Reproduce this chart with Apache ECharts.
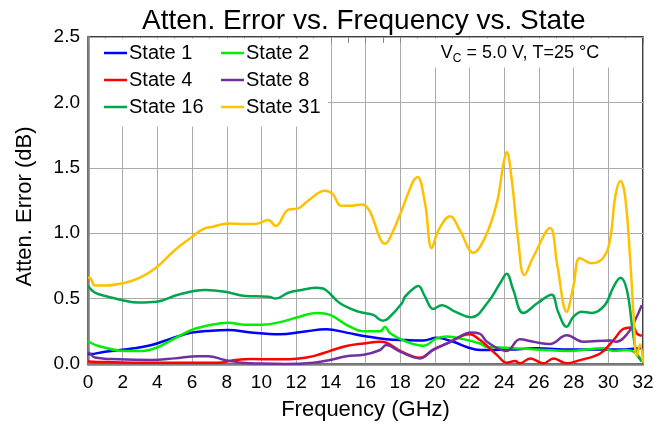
<!DOCTYPE html>
<html>
<head>
<meta charset="utf-8">
<script src="https://cdn.jsdelivr.net/npm/echarts@6/dist/echarts.min.js"></script>
<style>html,body{margin:0;padding:0;background:#fff}#c{width:666px;height:427px}</style>
</head>
<body>
<div id="c"></div>
<script>
var xTicks = [0,2,4,6,8,10,12,14,16,18,20,22,24,26,28,30,32];
var yTicks = ['0.0','0.5','1.0','1.5','2.0','2.5'];

var state1 = [[0,0.08],[0.1,0.076],[0.98,0.094],[2.13,0.11],[3.67,0.145],[4.83,0.196],[5.98,0.24],[7.1,0.255],[8.1,0.26],[9.4,0.24],[11.07,0.227],[12.4,0.247],[13.76,0.265],[14.9,0.24],[16.1,0.21],[17.2,0.19],[18.37,0.183],[19.34,0.18],[20.1,0.20],[21.06,0.17],[21.83,0.13],[22.6,0.107],[23.18,0.107],[24.34,0.11],[25.87,0.12],[27.8,0.11],[29.7,0.11],[30.7,0.11],[31.83,0.12],[32,0.12]];
var state2 = [[0,0.18],[0.1,0.166],[0.6,0.138],[2.13,0.10],[3.1,0.10],[4.05,0.13],[5.0,0.196],[5.98,0.26],[7.1,0.30],[8.1,0.316],[9.05,0.30],[10.0,0.30],[11.07,0.32],[12.03,0.355],[13.19,0.39],[13.96,0.375],[14.9,0.30],[15.9,0.25],[16.84,0.25],[17.13,0.285],[17.42,0.235],[18.37,0.17],[19.34,0.14],[20.1,0.196],[20.7,0.21],[21.64,0.19],[22.6,0.157],[23.0,0.13],[24.14,0.125],[25.87,0.11],[27.8,0.10],[29.7,0.12],[30.3,0.10],[31.07,0.107],[31.55,0.087],[31.93,0.02]];
var state4 = [[0,0.02],[1,0.015],[3,0.01],[5,0.01],[7.5,0.01],[8.5,0.03],[9.4,0.038],[11.07,0.036],[12.03,0.04],[13.0,0.06],[13.96,0.10],[14.9,0.138],[15.9,0.157],[16.84,0.17],[17.2,0.163],[17.99,0.10],[18.76,0.056],[19.15,0.048],[19.9,0.107],[20.9,0.17],[21.64,0.22],[22.03,0.228],[22.6,0.183],[22.8,0.163],[23.57,0.07],[24.14,0.01],[24.62,0.023],[24.9,0.005],[25.5,0.043],[26.26,0.005],[26.84,0.043],[27.6,0.005],[28.37,0.03],[29.53,0.08],[30.3,0.183],[30.9,0.27],[31.45,0.28],[31.64,0.235],[31.93,0.215]];
var state8 = [[0,0.09],[0.1,0.08],[0.4,0.05],[1.75,0.036],[3.67,0.03],[5.0,0.043],[6.36,0.06],[6.94,0.06],[7.9,0.03],[8.86,0.01],[10,0.003],[11.36,0.0],[13.0,0.01],[13.96,0.03],[14.9,0.06],[15.9,0.07],[16.84,0.107],[17.2,0.145],[17.99,0.094],[19.15,0.043],[19.9,0.11],[20.7,0.157],[21.45,0.21],[22.03,0.24],[22.6,0.23],[23.0,0.17],[24.14,0.10],[24.9,0.19],[25.68,0.17],[26.64,0.153],[27.6,0.22],[28.56,0.17],[30.1,0.18],[30.45,0.17],[31.12,0.235],[31.55,0.336],[31.93,0.45]];
var state16 = [[0,0.60],[0.1,0.58],[0.4,0.545],[1.0,0.52],[1.94,0.49],[2.9,0.47],[3.96,0.476],[5.2,0.53],[6.75,0.566],[7.9,0.553],[9.05,0.52],[10.4,0.515],[10.82,0.50],[11.55,0.545],[12.32,0.566],[13.19,0.583],[13.67,0.57],[14.53,0.464],[15.6,0.40],[16.45,0.375],[17.0,0.33],[17.32,0.35],[18.1,0.464],[18.28,0.515],[18.86,0.586],[19.05,0.596],[19.43,0.515],[19.9,0.42],[20.4,0.45],[21.17,0.40],[22.1,0.357],[23.08,0.476],[23.76,0.617],[24.14,0.69],[24.52,0.566],[25.1,0.39],[25.96,0.47],[26.73,0.53],[27.1,0.40],[27.6,0.285],[27.98,0.36],[28.47,0.40],[29.04,0.39],[29.8,0.45],[30.3,0.59],[30.7,0.66],[31.07,0.566],[31.4,0.26],[31.64,0.08],[31.93,0.02]];
var state31 = [[0,0.66],[0.1,0.66],[0.4,0.60],[1.0,0.60],[2.1,0.62],[3.0,0.66],[3.96,0.74],[5.0,0.87],[5.98,0.97],[6.6,1.03],[7.2,1.05],[8.07,1.075],[9.05,1.07],[9.6,1.07],[10.4,1.10],[10.82,1.055],[11.55,1.18],[12.13,1.19],[12.7,1.25],[13.67,1.325],[14.1,1.30],[14.6,1.21],[15.2,1.21],[15.8,1.22],[16.26,1.165],[16.84,0.96],[17.13,0.92],[17.5,0.99],[18.1,1.18],[18.76,1.40],[19.0,1.43],[19.43,1.23],[19.82,0.885],[20.2,1.02],[20.88,1.13],[21.45,1.02],[22.22,0.85],[22.9,0.97],[23.57,1.23],[23.95,1.53],[24.14,1.62],[24.43,1.41],[24.8,0.95],[25.16,0.68],[25.68,0.82],[26.64,1.04],[27.05,0.76],[27.6,0.40],[27.98,0.59],[28.37,0.81],[29.04,0.77],[29.7,0.81],[30.1,0.95],[30.4,1.28],[30.7,1.40],[30.97,1.28],[31.26,0.80],[31.45,0.39],[31.64,0.06],[31.83,0.15],[32,0.01]];

var seriesNames = ['State 1','State 2','State 4','State 8','State 16','State 31'];
var seriesData = [state1, state2, state4, state8, state16, state31];
var seriesColors = ['#0000ff','#00ee00','#ff0000','#7030a0','#00a550','#ffc000'];

var FONT = 'Liberation Sans, Arial, sans-serif';
var chart = echarts.init(document.getElementById('c'), null, {renderer:'canvas'});

var series = seriesNames.map(function(n,i){
  return {name:n, type:'line', data:seriesData[i], symbol:'none', smooth:0.4,
    lineStyle:{color:seriesColors[i], width:2.5}, itemStyle:{color:seriesColors[i]}, z:3};
});

var legendCommon = {orient:'vertical', icon:'rect', itemWidth:23, itemHeight:2.5, itemGap:7, top:43, padding:0,
  textStyle:{fontFamily:FONT, fontSize:20, color:'#000', lineHeight:20, padding:[0,0,0,-3]}, z:20};

chart.setOption({
  animation:false,
  backgroundColor:'#fff',
  title:{text:'Atten. Error vs. Frequency vs. State', left:137, top:2,
    textStyle:{fontFamily:FONT, fontSize:28, fontWeight:'normal', color:'#000'}},
  grid:{left:88, right:23, top:37, bottom:63, show:true, borderColor:'#000', borderWidth:1.5, backgroundColor:'#fff'},
  legend:[
    Object.assign({left:104, data:['State 1','State 4','State 16']}, legendCommon),
    Object.assign({left:221, data:['State 2','State 8','State 31']}, legendCommon)
  ],
  xAxis:[{type:'value', min:0, max:32, interval:2,
    name:'Frequency (GHz)', nameLocation:'middle', nameGap:35,
    nameTextStyle:{fontFamily:FONT, fontSize:22, color:'#000'},
    axisLine:{show:true, lineStyle:{color:'#7f7f7f', width:2.5}},
    axisTick:{show:false},
    axisLabel:{fontFamily:FONT, fontSize:19, color:'#000', margin:9,
      formatter:function(v){return xTicks.indexOf(v)>=0 ? String(v) : '';}},
    splitLine:{show:true, lineStyle:{color:'#aaaaaa', width:1}}},
   {type:'value', min:0, max:32, interval:1, position:'top',
    axisLine:{show:false}, axisLabel:{show:false}, splitLine:{show:false},
    axisTick:{show:true, inside:true, length:6, lineStyle:{color:'#888', width:1}}}],
  yAxis:{type:'value', min:0, max:2.5, interval:0.5,
    name:'Atten. Error (dB)', nameLocation:'middle', nameGap:52,
    nameTextStyle:{fontFamily:FONT, fontSize:22, color:'#000', padding:[0,12,0,0]},
    axisLine:{show:true, lineStyle:{color:'#7f7f7f', width:2.5}},
    axisTick:{show:false},
    axisLabel:{fontFamily:FONT, fontSize:19, color:'#000', margin:8,
      formatter:function(v){return yTicks[Math.round(v/0.5)];}},
    splitLine:{show:true, lineStyle:{color:'#aaaaaa', width:1}}},
  graphic:[
    {type:'rect', shape:{x:90, y:38.5, width:238, height:88}, style:{fill:'#fff'}, z:10},
    {type:'rect', shape:{x:416, y:38.5, width:210, height:29}, style:{fill:'#fff'}, z:10},
    {type:'text', x:520, y:53, z:20, style:{
      text:'{a|V}{b|C}{a| = 5.0 V, T=25 °C}', align:'center', verticalAlign:'middle',
      rich:{a:{fontFamily:FONT, fontSize:18, fill:'#000'}, b:{fontFamily:FONT, fontSize:12, fill:'#000', padding:[11,0,0,0]}}}}
  ],
  series:series
});
</script>
</body>
</html>
